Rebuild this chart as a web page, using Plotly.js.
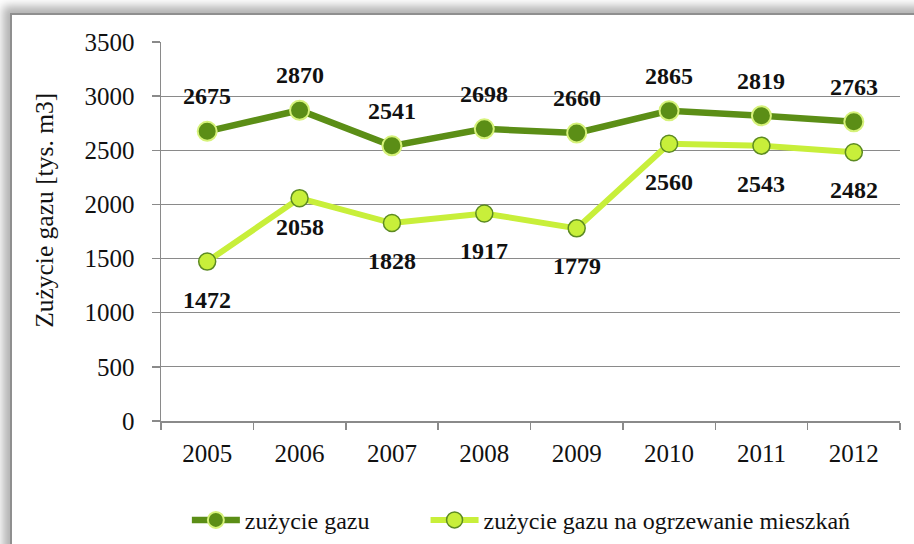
<!DOCTYPE html>
<html>
<head>
<meta charset="utf-8">
<script src="https://cdn.plot.ly/plotly-3.0.1.min.js"></script>
<style>
  html, body { margin: 0; padding: 0; background: #ffffff; width: 914px; height: 544px; overflow: hidden; }
  #frame { position: absolute; left: 10px; top: 13px; width: 930px; height: 560px;
           border: 2px solid #8f8f8f; background: #ffffff;
           box-shadow: -3px -3px 9px 4px rgba(0,0,0,0.30); }
  #chart { position: absolute; left: 0; top: 0; width: 914px; height: 544px; }
</style>
</head>
<body>
<div id="frame"></div>
<div id="chart"></div>
<script>
const years = ['2005', '2006', '2007', '2008', '2009', '2010', '2011', '2012'];
const gasTotal = [2675, 2870, 2541, 2698, 2660, 2865, 2819, 2763];
const gasHeating = [1472, 2058, 1828, 1917, 1779, 2560, 2543, 2482];
const seriesNames = ['zużycie gazu', 'zużycie gazu na ogrzewanie mieszkań'];
const yTitle = 'Zużycie gazu [tys. m3]';

const serif = "'Liberation Serif', 'Times New Roman', serif";
const darkGreen = '#5b8e16';
const lightGreen = '#c8ef3a';

const traces = [
  {
    x: years, y: gasTotal, name: seriesNames[0], type: 'scatter', mode: 'lines+markers',
    line: { color: darkGreen, width: 6.5 },
    marker: { color: darkGreen, size: 19, line: { color: '#d6f27a', width: 2 } },
    hoverinfo: 'x+y', legend: 'legend'
  },
  {
    x: years, y: gasHeating, name: seriesNames[1], type: 'scatter', mode: 'lines+markers',
    line: { color: lightGreen, width: 6 },
    marker: { color: lightGreen, size: 17, line: { color: '#5c8a22', width: 1.5 } },
    hoverinfo: 'x+y', legend: 'legend2'
  }
];

const annotations = [];
years.forEach((yr, i) => {
  annotations.push({
    x: i, y: gasTotal[i], xref: 'x', yref: 'y', text: String(gasTotal[i]),
    showarrow: false, yshift: 35,
    font: { family: serif, size: 24, color: '#111111', weight: 'bold' }
  });
  annotations.push({
    x: i, y: gasHeating[i], xref: 'x', yref: 'y', text: String(gasHeating[i]),
    showarrow: false, yshift: i === 1 ? -29 : -38,
    font: { family: serif, size: 24, color: '#111111', weight: 'bold' }
  });
});
annotations.push({
  xref: 'paper', yref: 'paper', x: -0.157, y: 0.557, text: yTitle, textangle: -90,
  showarrow: false, xanchor: 'center', yanchor: 'middle',
  font: { family: serif, size: 25.5, color: '#111111' }
});

const legendBase = {
  orientation: 'h', y: -0.262, xanchor: 'left', yanchor: 'middle',
  font: { family: serif, size: 24, color: '#111111' },
  itemwidth: 48, bgcolor: 'rgba(0,0,0,0)'
};

const layout = {
  width: 914, height: 544,
  margin: { l: 161, r: 14, t: 42, b: 123, autoexpand: false },
  paper_bgcolor: 'rgba(0,0,0,0)',
  plot_bgcolor: 'rgba(0,0,0,0)',
  font: { family: serif, color: '#111111' },
  showlegend: true,
  legend: Object.assign({}, legendBase, { x: 0.035 }),
  legend2: Object.assign({}, legendBase, { x: 0.358 }),
  xaxis: {
    type: 'category', range: [-0.5, 7.5], tickson: 'boundaries',
    ticks: 'outside', ticklen: 7, tickcolor: '#8a8a8a', tickwidth: 1.5,
    showline: true, linecolor: '#8a8a8a', linewidth: 1.5,
    showgrid: false, fixedrange: true, automargin: false,
    tickfont: { family: serif, size: 25, color: '#111111' },
    ticklabelstandoff: 9
  },
  yaxis: {
    range: [0, 3500], dtick: 500, tick0: 0,
    ticks: 'outside', ticklen: 8, tickcolor: '#8a8a8a', tickwidth: 1.5,
    showline: true, linecolor: '#8a8a8a', linewidth: 1.5,
    showgrid: true, gridcolor: '#8a8a8a', gridwidth: 1.2,
    zeroline: false, fixedrange: true, automargin: false,
    tickfont: { family: serif, size: 25, color: '#111111' },
    ticklabelstandoff: 12
  },
  annotations: annotations
};

Plotly.newPlot('chart', traces, layout, { displayModeBar: false, staticPlot: true });
</script>
</body>
</html>
